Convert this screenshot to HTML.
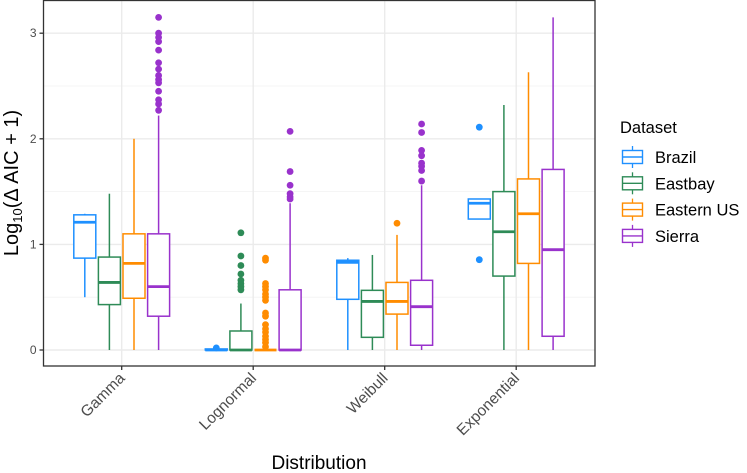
<!DOCTYPE html>
<html><head><meta charset="utf-8"><style>
body{margin:0;background:#fff;}
svg{display:block;font-family:"Liberation Sans",sans-serif;}
</style></head><body>
<svg id="chart" width="747" height="473"></svg>
<script>
const categories=["Gamma","Lognormal","Weibull","Exponential"];
const datasets=["Brazil","Eastbay","Eastern US","Sierra"];
const colors=["#1E90FF","#2E8B57","#FF8C00","#9932CC"];
const yTicks=[0,1,2,3];
// [lowerWhisker, q1, median, q3, upperWhisker] per category per dataset
const statsBrazil=[[0.5,0.87,1.21,1.28,1.29],[0,0,0,0.01,0.01],[0,0.48,0.83,0.85,0.87],[1.24,1.24,1.39,1.43,1.43]];
const statsEastbay=[[0,0.43,0.64,0.88,1.48],[0,0,0,0.18,0.44],[0,0.12,0.46,0.565,0.9],[0,0.7,1.12,1.5,2.32]];
const statsEastern=[[0,0.49,0.82,1.1,2.0],[0,0,0,0,0],[0,0.34,0.46,0.64,1.09],[0,0.82,1.29,1.62,2.63]];
const statsSierra=[[0,0.32,0.6,1.1,2.22],[0,0,0,0.57,1.39],[0,0.045,0.41,0.66,1.56],[0,0.13,0.95,1.71,3.15]];
const outBrazil=[[],[0.02],[],[2.11,0.855]];
const outEastbay=[[],[1.11,0.89,0.8,0.72,0.66,0.63,0.6,0.57],[],[]];
const outEastern=[[],[0.87,0.85,0.63,0.6,0.57,0.53,0.5,0.47,0.35,0.32,0.24,0.2,0.17,0.13,0.1,0.07,0.03],[1.2],[]];
const outSierra=[[3.15,3.0,2.96,2.92,2.84,2.72,2.66,2.6,2.56,2.53,2.45,2.37,2.33,2.27],[2.07,1.69,1.56,1.48,1.45,1.43],[2.14,2.06,1.89,1.84,1.77,1.74,1.7,1.6],[]];
const allStats=[statsBrazil,statsEastbay,statsEastern,statsSierra];
const allOut=[outBrazil,outEastbay,outEastern,outSierra];

const NS="http://www.w3.org/2000/svg";
const svg=document.getElementById('chart');
const L=43.5,R=595,T=0.5,B=366;
const y0=350,yUnit=105.6;
const y=v=>y0-v*yUnit;
const xc=i=>121.7+i*131.5;
const dodge=j=>(j-1.5)*24.6;
const BW=22;
const LW=1.5;
function mk(tag,attrs,parent){const e=document.createElementNS(NS,tag);for(const k in attrs)e.setAttribute(k,attrs[k]);(parent||svg).appendChild(e);return e;}

const grid=mk('g',{});


mk('rect',{x:L,y:T,width:R-L,height:B-T,fill:'#fff'},grid);
for(let v=0.5;v<3.5;v+=1){mk('line',{x1:L,x2:R,y1:y(v),y2:y(v),stroke:'#f2f2f2','stroke-width':0.8},grid);}
yTicks.forEach(v=>mk('line',{x1:L,x2:R,y1:y(v),y2:y(v),stroke:'#ebebeb','stroke-width':1.4},grid));
categories.forEach((c,i)=>mk('line',{x1:xc(i),x2:xc(i),y1:T,y2:B,stroke:'#ebebeb','stroke-width':1.4},grid));

categories.forEach((c,i)=>{
  datasets.forEach((d,j)=>{
    const s=allStats[j][i];const cx=xc(i)+dodge(j);const col=colors[j];
    const g=mk('g',{});
    
    
    mk('line',{x1:cx,x2:cx,y1:y(s[4]),y2:y(s[3]),stroke:col,'stroke-width':LW},g);
    mk('line',{x1:cx,x2:cx,y1:y(s[1]),y2:y(s[0]),stroke:col,'stroke-width':LW},g);
    mk('rect',{x:cx-BW/2,y:y(s[3]),width:BW,height:Math.max(0,y(s[1])-y(s[3])),fill:'#fff',stroke:col,'stroke-width':LW},g);
    mk('line',{x1:cx-BW/2,x2:cx+BW/2,y1:y(s[2]),y2:y(s[2]),stroke:col,'stroke-width':2.8},g);
    allOut[j][i].forEach(v=>{
      const p=mk('circle',{cx:cx,cy:y(v),r:3.4,fill:col},g);
      
      
    });
  });
});
mk('rect',{x:L,y:T,width:R-L,height:B-T,fill:'none',stroke:'#333','stroke-width':1.3});

const ax=mk('g',{});


yTicks.forEach(v=>{
  mk('line',{x1:L-4,x2:L,y1:y(v),y2:y(v),stroke:'#333','stroke-width':1.3},ax);
  const t=mk('text',{x:L-7,y:y(v)+4,'text-anchor':'end','font-size':12,fill:'#4d4d4d'},ax);t.textContent=v;
});
const xa=mk('g',{});


categories.forEach((c,i)=>{
  mk('line',{x1:xc(i),x2:xc(i),y1:B,y2:B+4,stroke:'#333','stroke-width':1.3},xa);
  const t=mk('text',{x:xc(i)+4,y:B+13,'text-anchor':'end','font-size':15.5,fill:'#4d4d4d',transform:`rotate(-45 ${xc(i)+4} ${B+13})`},xa);t.textContent=c;
});
const xt=mk('text',{x:319,y:469,'text-anchor':'middle','font-size':19,fill:'#000'});


xt.textContent='Distribution';
const yt=mk('text',{x:0,y:0,'text-anchor':'middle','font-size':20,fill:'#000',transform:'translate(18,183) rotate(-90)'});


yt.innerHTML='Log<tspan font-size="13" dy="4">10</tspan><tspan dy="-4">(Δ AIC + 1)</tspan>';

const lg=mk('g',{});


const lt=mk('text',{x:620,y:133,'font-size':16.5,fill:'#000'},lg);lt.textContent='Dataset';
datasets.forEach((d,j)=>{
  const cy=157+j*26.3;const col=colors[j];
  const e=mk('g',{},lg);
  
  
  mk('line',{x1:632.5,x2:632.5,y1:cy-11,y2:cy+11,stroke:col,'stroke-width':1.3},e);
  mk('rect',{x:622.5,y:cy-6.5,width:20,height:13,fill:'#fff',stroke:col,'stroke-width':1.4},e);
  mk('line',{x1:622.5,x2:642.5,y1:cy,y2:cy,stroke:col,'stroke-width':1.4},e);
  const t=mk('text',{x:655,y:cy+6,'font-size':16.5,fill:'#000'},e);t.textContent=d;
});
</script>
</body></html>
